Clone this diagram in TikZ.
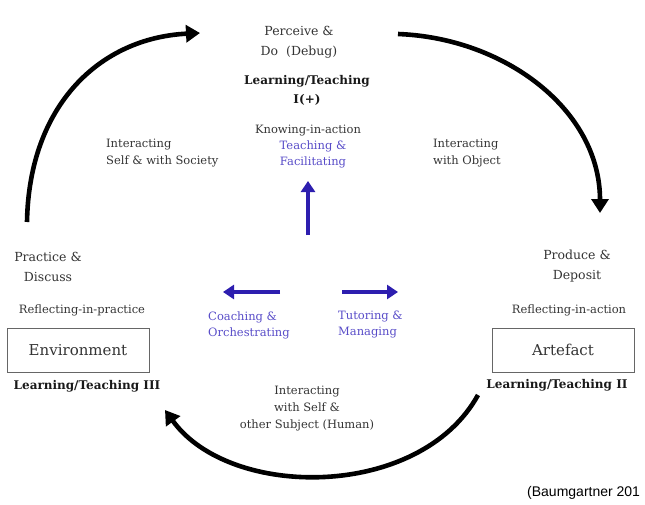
\documentclass[tikz,border=0pt]{standalone}
\usepackage{fontspec}
\setmainfont{DejaVu Serif}
\newfontfamily\notefont{Liberation Sans}
\definecolor{cygray}{RGB}{52,52,52}
\definecolor{cyblue}{RGB}{88,76,200}
\definecolor{cyarrow}{RGB}{45,30,175}
\usetikzlibrary{arrows.meta}

\begin{document}
\begin{tikzpicture}[
  x=1pt,y=-1pt,
  every node/.style={font=\fontsize{11.5}{17}\selectfont,text=cygray,align=center,inner sep=0pt},
  phase/.style={font=\fontsize{12.5}{20}\selectfont},
  level/.style={font=\fontsize{12}{19}\selectfont\bfseries,text=black!90},
  roletxt/.style={text=cyblue,align=left,anchor=west,font=\fontsize{11.5}{16}\selectfont},
  placebox/.style={draw=black!60,line width=0.8pt,minimum width=142pt,minimum height=44pt,
                   font=\fontsize{15}{18}\selectfont},
  cycarc/.style={line width=4.6pt,-{Triangle[length=14pt,width=17pt]}},
  rolearrow/.style={line width=4pt,cyarrow,-{Triangle[length=11pt,width=14pt]}},
]
  \useasboundingbox (0,0) rectangle (645,504);

  % Top: Learning/Teaching I
  \node[phase] (perceive) at (299,42) {Perceive \&\\Do\ \ (Debug)};
  \node[level] (levelone) at (307,90.5) {Learning/Teaching\\I(+)};
  \node (knowing) at (308,131) {Knowing-in-action};
  \node[roletxt,align=center,anchor=center] (teachfac) at (313,154) {Teaching \&\\Facilitating};

  % Interactions
  \node[align=left,anchor=west] (intsoc) at (106,153.5) {Interacting\\Self \& with Society};
  \node[align=left,anchor=west] (intobj) at (433,153.5) {Interacting\\with Object};
  \node (inthuman) at (307,409) {Interacting\\with Self \&\\other Subject (Human)};

  % Left: Learning/Teaching III
  \node[phase] (practice) at (48,266.5) {Practice \&\\Discuss};
  \node (reflprac) at (82,310) {Reflecting-in-practice};
  \node[placebox] (environment) at (78,350) {Environment};
  \node[level] (levelthree) at (87,386) {Learning/Teaching III};

  % Right: Learning/Teaching II
  \node[phase] (produce) at (577,266.5) {Produce \&\\Deposit};
  \node (reflact) at (569,310) {Reflecting-in-action};
  \node[placebox] (artefact) at (563,350) {Artefact};
  \node[level] (leveltwo) at (557,385) {Learning/Teaching II};

  % Roles in the middle
  \node[roletxt] (coach) at (208,325) {Coaching \&\\Orchestrating};
  \node[roletxt] (tutor) at (338,325) {Tutoring \&\\Managing};

  % Arrow ends
  \coordinate (hub) at (308,235);
  \coordinate (upend) at (308,181);
  \coordinate (lstart) at (280,292);
  \coordinate (lend) at (223,292);
  \coordinate (rstart) at (342,292);
  \coordinate (rend) at (398,292);
  \coordinate (arcA) at (27,222);
  \coordinate (arcB) at (200,33);
  \coordinate (arcC) at (398,34);
  \coordinate (arcD) at (600,213);
  \coordinate (arcE) at (478,395);
  \coordinate (arcF) at (165,410);

  % Blue arrows
  \draw[rolearrow] (hub) -- (upend);
  \draw[rolearrow] (lstart) -- (lend);
  \draw[rolearrow] (rstart) -- (rend);

  % Cycle arcs
  \draw[cycarc] (arcA) .. controls (29,105) and (100,38) .. (arcB);
  \draw[cycarc] (arcC) .. controls (505,38) and (600,110) .. (arcD);
  \draw[cycarc] (arcE) .. controls (420,500) and (230,500) .. (arcF);

  % Source
  \node[anchor=west,text=black,font=\notefont\fontsize{14}{16}\selectfont] (source) at (527,493) {(Baumgartner 201};
\end{tikzpicture}
\end{document}
